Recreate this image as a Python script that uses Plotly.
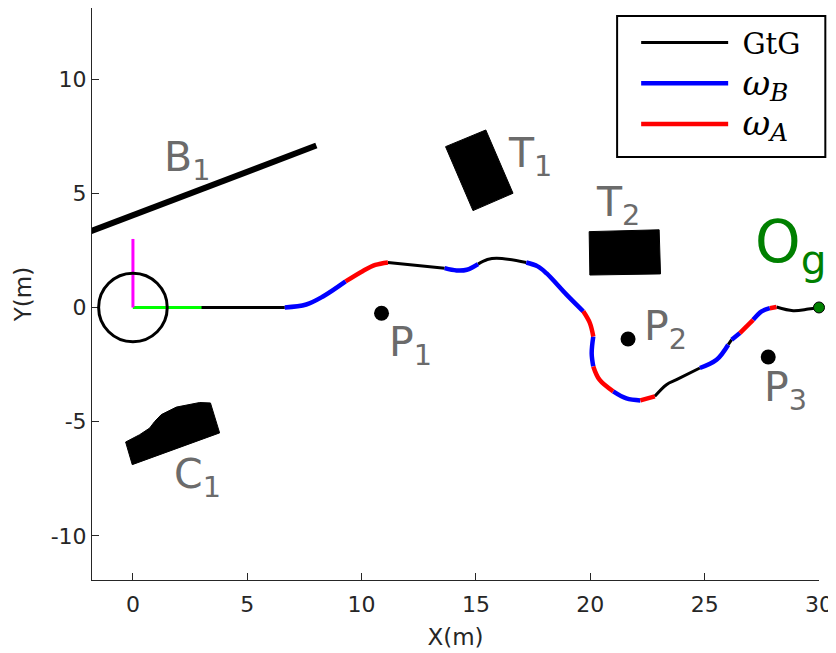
import plotly.graph_objects as go

# trajectory (m)
path_x = [0.0, 6.64, 7.58, 8.31, 9.3, 10.06, 10.6, 11.15, 13.63, 14.15, 14.6, 15.09,
          15.5, 15.9, 17.2, 17.7, 18.08, 18.96, 19.69, 19.98, 20.13, 20.06, 20.13,
          20.4, 21.0, 21.58, 22.19, 22.82, 23.33, 23.77, 24.79, 25.52, 26.03, 26.18,
          26.54, 27.12, 27.49, 27.85, 28.14, 28.87, 29.53, 30.0]
path_y = [0.0, 0.0, 0.13, 0.48, 1.14, 1.6, 1.86, 1.97, 1.72, 1.62, 1.65, 1.9,
          2.1, 2.16, 1.97, 1.8, 1.5, 0.56, -0.17, -0.68, -1.27, -2.0, -2.58,
          -3.16, -3.67, -3.98, -4.07, -3.89, -3.38, -3.16, -2.65, -2.29, -1.63, -1.41,
          -1.12, -0.54, -0.17, -0.03, 0.02, -0.14, -0.07, 0.0]
# (start index, end index, mode)
segments = [(0, 1, 'GtG'), (1, 4, 'B'), (4, 7, 'A'), (7, 8, 'GtG'), (8, 11, 'B'),
            (11, 14, 'GtG'), (14, 18, 'B'), (18, 20, 'A'), (20, 22, 'B'), (22, 24, 'A'),
            (24, 26, 'B'), (26, 27, 'A'), (27, 30, 'GtG'), (30, 32, 'B'), (32, 33, 'GtG'),
            (33, 34, 'B'), (34, 35, 'A'), (35, 37, 'B'), (37, 38, 'A'), (38, 41, 'GtG')]

# obstacles
wall_x = [-2.0, 8.02]
wall_y = [3.28, 7.09]
t1_x = [13.67, 15.43, 16.62, 14.87]
t1_y = [7.04, 7.77, 5.0, 4.24]
t2_x = [19.95, 23.01, 23.07, 19.98]
t2_y = [3.32, 3.40, 1.47, 1.42]
c1_x = [-0.32, -0.03, 3.79, 3.39, 2.92, 1.90, 1.24, 0.95, 0.73, 0.29]
c1_y = [-5.89, -6.88, -5.49, -4.18, -4.16, -4.36, -4.69, -4.99, -5.28, -5.57]

# pedestrians and goal
ped_x = [10.87, 21.65, 27.78]
ped_y = [-0.25, -1.38, -2.17]
goal = (30.0, 0.0)

# robot frame
robot = (0.0, 0.0)
robot_r = 1.5
axis_len = 3.0

# labels: text, x, y
labels = [('B<sub>1</sub>', 1.26, 6.44), ('T<sub>1</sub>', 16.32, 6.61),
          ('T<sub>2</sub>', 20.15, 4.5), ('C<sub>1</sub>', 1.7, -7.43),
          ('P<sub>1</sub>', 11.12, -1.65), ('P<sub>2</sub>', 22.26, -0.93),
          ('P<sub>3</sub>', 27.5, -3.62)]
goal_label = ('O<sub>g</sub>', 27.12, 2.7)

xticks = [0, 5, 10, 15, 20, 25, 30]
yticks = [-10, -5, 0, 5, 10]

NBSP = '\u00a0'
OMEGA = '<span style="font-size:34px"><i>ω</i></span>'


def sub(ch):
    return '<sub><span style="font-size:25px"><i>%s</i></span></sub>' % ch


styles = {
    'GtG': dict(color='black', width=3, name=NBSP + 'GtG'),
    'B': dict(color='#0000ff', width=4.5, name=NBSP + OMEGA + sub('B')),
    'A': dict(color='#ff0000', width=4.5, name=NBSP + OMEGA + sub('A')),
}

fig = go.Figure()

# obstacles
fig.add_trace(go.Scatter(x=wall_x, y=wall_y, mode='lines',
                         line=dict(color='black', width=6), showlegend=False))
for px, py in [(t1_x, t1_y), (t2_x, t2_y), (c1_x, c1_y)]:
    fig.add_trace(go.Scatter(x=px + [px[0]], y=py + [py[0]], mode='lines', fill='toself',
                             fillcolor='black', line=dict(color='black', width=1),
                             showlegend=False))

# robot circle
fig.add_shape(type='circle', xref='x', yref='y',
              x0=robot[0] - robot_r, x1=robot[0] + robot_r,
              y0=robot[1] - robot_r, y1=robot[1] + robot_r,
              line=dict(color='black', width=3))

# trajectory segments
shown = set()
for mode in ['GtG', 'B', 'A']:
    for s, e, m in segments:
        if m != mode:
            continue
        st = styles[m]
        fig.add_trace(go.Scatter(
            x=path_x[s:e + 1], y=path_y[s:e + 1], mode='lines',
            line=dict(color=st['color'], width=st['width'], shape='spline'),
            name=st['name'], legendgroup=m, showlegend=m not in shown))
        shown.add(m)

# robot frame axes
fig.add_trace(go.Scatter(x=[robot[0], robot[0] + axis_len], y=[robot[1], robot[1]],
                         mode='lines', line=dict(color='#00ff00', width=3), showlegend=False))
fig.add_trace(go.Scatter(x=[robot[0], robot[0]], y=[robot[1], robot[1] + axis_len],
                         mode='lines', line=dict(color='#ff00ff', width=3), showlegend=False))

fig.add_trace(go.Scatter(x=ped_x, y=ped_y, mode='markers',
                         marker=dict(color='black', size=15), showlegend=False))
fig.add_trace(go.Scatter(x=[goal[0]], y=[goal[1]], mode='markers', cliponaxis=False,
                         marker=dict(color='#008000', size=11, line=dict(color='black', width=1)),
                         showlegend=False))

for txt, lx, ly in labels:
    fig.add_annotation(x=lx, y=ly, text=txt, showarrow=False, xanchor='left', yanchor='middle',
                       font=dict(family='DejaVu Sans', size=41, color='#6b6b6b'))
fig.add_annotation(x=goal_label[1], y=goal_label[2], text=goal_label[0], showarrow=False,
                   xanchor='left', yanchor='middle',
                   font=dict(family='DejaVu Sans', size=58, color='#008000'))

# legend frame (the legend itself has no border so the padding can match)
fig.add_shape(type='rect', xref='paper', yref='paper', x0=0.7223, x1=1.0087,
              y0=0.7395, y1=0.986, line=dict(color='black', width=2))

axis_common = dict(showline=True, linecolor='#262626', linewidth=1, ticks='inside', ticklen=7,
                   tickcolor='#262626', showgrid=False, zeroline=False, automargin=False,
                   tickfont=dict(family='DejaVu Sans', size=22, color='#262626'),
                   title_font=dict(family='DejaVu Sans', size=23, color='#262626'))

# page body has an 8px margin, so the figure is shifted by that amount
fig.update_layout(
    width=828, height=645,
    margin=dict(l=84, r=17, t=0, b=73),
    plot_bgcolor='white', paper_bgcolor='white',
    xaxis=dict(range=[-1.79, 30.0], tickvals=xticks, ticktext=[str(v) for v in xticks],
               ticklabelstandoff=5, title=dict(text='X(m)', standoff=12), **axis_common),
    yaxis=dict(range=[-11.93, 13.11], tickvals=yticks, ticktext=[str(v) for v in yticks],
               title=dict(text='Y(m)', standoff=12), **axis_common),
    legend=dict(x=0.7485, y=0.984, xanchor='left', yanchor='top', bgcolor='rgba(0,0,0,0)',
                borderwidth=0, itemwidth=87, tracegroupgap=0,
                font=dict(family='DejaVu Serif', size=29, color='black')),
    showlegend=True,
)

fig.write_html("out.html")
